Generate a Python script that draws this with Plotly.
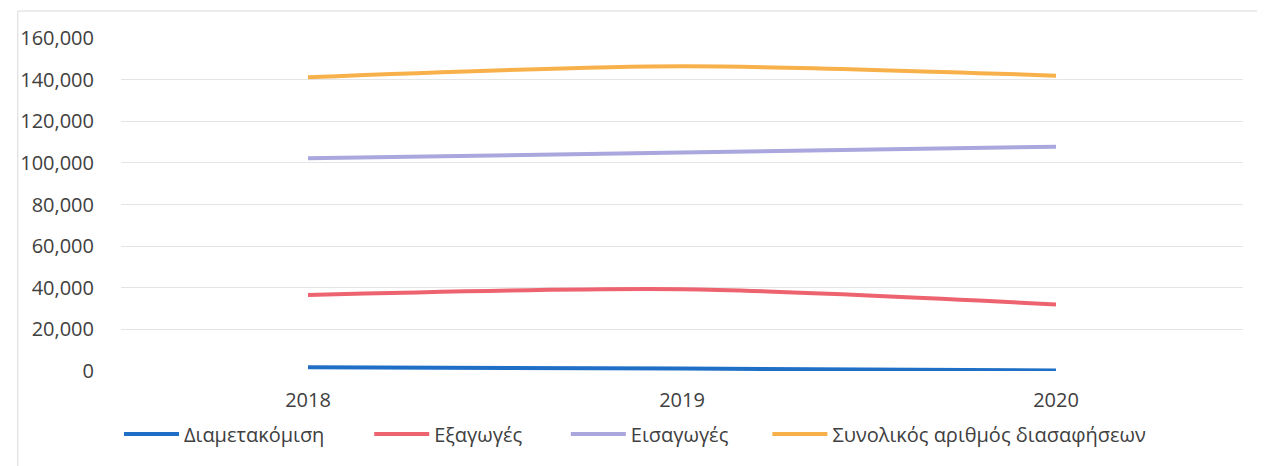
import plotly.graph_objects as go

years = ["2018", "2019", "2020"]
transit = [1800, 1200, 300]
exports = [36500, 39300, 32000]
imports = [102200, 105000, 107800]
total = [141100, 146400, 141900]

names = ["Διαμετακόμιση", "Εξαγωγές", "Εισαγωγές", "Συνολικός αριθμός διασαφήσεων"]
series = [transit, exports, imports, total]
colors = ["#1F6FC6", "#EE6370", "#A9A7DD", "#F8B14A"]
legend_ids = ["legend", "legend2", "legend3", "legend4"]
legend_line_start = [117, 369, 567, 770]   # page px where each legend line starts

OFF = 8  # default page body offset
W, H = 1265 - OFF, 466 - OFF
L, T = 113 - OFF, 38 - OFF
R = OFF + W - 1243
B = OFF + H - 371
pw = W - L - R
ph = H - T - B


def px_x(page_x):
    return (page_x - OFF - L) / pw


def px_y(page_y):
    return (OFF + H - B - page_y) / ph


fig = go.Figure()
for n, s, c, lg in zip(names, series, colors, legend_ids):
    fig.add_trace(go.Scatter(x=years, y=s, name=n, mode="lines", legend=lg, showlegend=True,
                             line=dict(color=c, width=4, shape="spline", smoothing=0.8)))

font = dict(family="Open Sans, sans-serif", size=20, color="#404040")
layout_legends = {}
for lg, px in zip(legend_ids, legend_line_start):
    layout_legends[lg] = dict(orientation="h", x=px_x(px - 6), xanchor="left",
                              y=px_y(434), yanchor="middle", font=font, itemwidth=55,
                              bgcolor="rgba(0,0,0,0)", visible=True)

fig.update_layout(
    width=W, height=H, showlegend=True,
    paper_bgcolor="white", plot_bgcolor="white",
    margin=dict(l=L, r=R, t=T, b=B),
    font=font,
    xaxis=dict(type="category", range=[-0.5, 2.5], showgrid=False, zeroline=False,
               showline=False, ticks="", ticklabelstandoff=15, tickfont=font),
    yaxis=dict(range=[0, 160000], dtick=20000, tickformat=",", showgrid=True,
               gridcolor="#E4E4E4", gridwidth=1, zeroline=False, showline=False,
               ticks="", ticklabelstandoff=26, tickfont=font),
    shapes=[dict(type="rect", xref="paper", yref="paper",
                 x0=px_x(9), x1=px_x(1262), y0=px_y(475), y1=px_y(11),
                 line=dict(color="#DADADA", width=1))],
    **layout_legends,
)

fig.write_html("out.html")
